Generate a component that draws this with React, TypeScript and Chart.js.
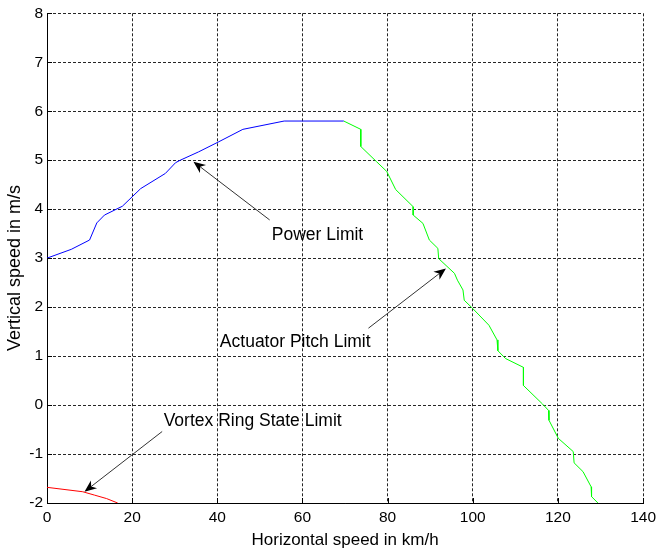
import React, { useEffect, useRef } from "react";
import { Chart, registerables } from "chart.js";

Chart.register(...registerables);

// ---- Data ----
const xTicks = [0, 20, 40, 60, 80, 100, 120, 140];
const yTicks = [-2, -1, 0, 1, 2, 3, 4, 5, 6, 7, 8];

const powerX = [0, 5.7, 10, 11.7, 13.5, 17.7, 22, 27.8, 30.2, 31.3, 35.6, 40.2, 46, 55.7, 69.7];
const powerY = [3.0, 3.18, 3.37, 3.72, 3.88, 4.06, 4.42, 4.73, 4.95, 5.0, 5.17, 5.37, 5.63, 5.8, 5.8];

const actuatorX = [69.7, 73.7, 73.7, 77.4, 79.8, 81.9, 86, 86, 88.3, 89.8, 91.8, 92, 95.7, 96.4, 97.7, 98, 99.9, 103.8, 105.7, 105.9, 107.7, 111.9, 111.9, 116.4, 117.8, 117.9, 120.1, 123.6, 123.8, 125.9, 127.8, 127.9, 129.4];
const actuatorY = [5.8, 5.63, 5.28, 4.97, 4.77, 4.4, 4.05, 3.88, 3.71, 3.37, 3.2, 2.99, 2.69, 2.55, 2.35, 2.14, 1.98, 1.63, 1.33, 1.11, 0.95, 0.77, 0.4, 0.02, -0.11, -0.31, -0.68, -0.95, -1.18, -1.36, -1.67, -1.87, -2.0];

const vortexX = [0, 8.4, 11.2, 14, 16.6];
const vortexY = [-1.68, -1.77, -1.84, -1.91, -2.0];

// annotations (data coordinates)
const noteTexts = ["Power Limit", "Actuator Pitch Limit", "Vortex Ring State Limit"];
const noteTextX = [52.8, 40.6, 27.4];
const noteTextY = [3.38, 1.19, -0.42];
const arrowFromX = [52.3, 75.5, 27.05];
const arrowFromY = [3.78, 1.57, -0.54];
const arrowToX = [34.4, 93.7, 8.8];
const arrowToY = [4.97, 2.79, -1.77];

const xTitle = "Horizontal speed in km/h";
const yTitle = "Vertical speed in m/s";

const FONT = "Arial, 'Liberation Sans', sans-serif";

const toPts = (xs: number[], ys: number[]) => xs.map((x, i) => ({ x, y: ys[i] }));

export default function App() {
  const ref = useRef<HTMLCanvasElement | null>(null);

  useEffect(() => {
    document.body.style.margin = "0";
    const canvas = ref.current!;
    const overlay = {
      id: "overlay",
      afterDraw(chart: any) {
        const { ctx, chartArea } = chart;
        const xs = chart.scales.x;
        const ys = chart.scales.y;
        ctx.save();
        // inward tick marks
        ctx.strokeStyle = "#000";
        ctx.lineWidth = 1;
        ctx.setLineDash([]);
        ctx.beginPath();
        xTicks.forEach((t) => {
          const px = Math.round(xs.getPixelForValue(t)) + 0.5;
          ctx.moveTo(px, chartArea.bottom);
          ctx.lineTo(px, chartArea.bottom - 5);
        });
        yTicks.forEach((t) => {
          const py = Math.round(ys.getPixelForValue(t)) + 0.5;
          ctx.moveTo(chartArea.left, py);
          ctx.lineTo(chartArea.left + 5, py);
        });
        ctx.stroke();

        // axis titles
        ctx.fillStyle = "#000";
        ctx.font = `17px ${FONT}`;
        ctx.textAlign = "center";
        ctx.textBaseline = "alphabetic";
        ctx.fillText(xTitle, (chartArea.left + chartArea.right) / 2 + 0, 545);
        ctx.save();
        ctx.translate(20, 268);
        ctx.rotate(-Math.PI / 2);
        ctx.font = `18px ${FONT}`;
        ctx.fillText(yTitle, 0, 0);
        ctx.restore();

        // annotations
        ctx.font = `17.5px ${FONT}`;
        ctx.textAlign = "left";
        noteTexts.forEach((txt, i) => {
          ctx.fillStyle = "#000";
          ctx.fillText(txt, xs.getPixelForValue(noteTextX[i]), ys.getPixelForValue(noteTextY[i]));
          const x1 = xs.getPixelForValue(arrowFromX[i]);
          const y1 = ys.getPixelForValue(arrowFromY[i]);
          const x2 = xs.getPixelForValue(arrowToX[i]);
          const y2 = ys.getPixelForValue(arrowToY[i]);
          const ang = Math.atan2(y2 - y1, x2 - x1);
          const L = 12;
          const W = 5;
          const notch = 3.5;
          ctx.strokeStyle = "#333";
          ctx.lineWidth = 1;
          ctx.beginPath();
          ctx.moveTo(x1, y1);
          ctx.lineTo(x2 - Math.cos(ang) * (L - notch), y2 - Math.sin(ang) * (L - notch));
          ctx.stroke();
          ctx.save();
          ctx.translate(x2, y2);
          ctx.rotate(ang);
          ctx.fillStyle = "#000";
          ctx.beginPath();
          ctx.moveTo(0, 0);
          ctx.lineTo(-L, -W);
          ctx.lineTo(-L + notch, 0);
          ctx.lineTo(-L, W);
          ctx.closePath();
          ctx.fill();
          ctx.restore();
        });
        ctx.restore();
      },
    };

    const chart = new Chart(canvas, {
      type: "line",
      data: {
        datasets: [
          {
            data: toPts(powerX, powerY),
            borderColor: "#0000ff",
            borderWidth: 1,
            pointRadius: 0,
            tension: 0,
          },
          {
            data: toPts(actuatorX, actuatorY),
            borderColor: "#00ff00",
            borderWidth: 1,
            pointRadius: 0,
            tension: 0,
          },
          {
            data: toPts(vortexX, vortexY),
            borderColor: "#ff0000",
            borderWidth: 1,
            pointRadius: 0,
            tension: 0,
          },
        ],
      },
      options: {
        animation: false,
        responsive: false,
        maintainAspectRatio: false,
        events: [],
        layout: { padding: { top: 13, right: 12, left: 0, bottom: 0 } },
        plugins: { legend: { display: false }, tooltip: { enabled: false }, title: { display: false } },
        scales: {
          x: {
            type: "linear",
            min: 0,
            max: 140,
            afterFit: (s: any) => {
              s.height = 50;
            },
            afterBuildTicks: (s: any) => {
              s.ticks = xTicks.map((v) => ({ value: v }));
            },
            ticks: {
              color: "#000",
              font: { size: 15.5, family: FONT },
              padding: 5,
              maxRotation: 0,
              autoSkip: false,
            },
            grid: { color: "rgba(0,0,0,0.85)", lineWidth: 1, drawTicks: false },
            border: { display: true, color: "#000", width: 1, dash: [3, 2] },
          },
          y: {
            type: "linear",
            min: -2,
            max: 8,
            afterFit: (s: any) => {
              s.width = 47;
            },
            afterBuildTicks: (s: any) => {
              s.ticks = yTicks.map((v) => ({ value: v }));
            },
            ticks: {
              color: "#000",
              font: { size: 15.5, family: FONT },
              padding: 4,
              autoSkip: false,
            },
            grid: { color: "rgba(0,0,0,0.85)", lineWidth: 1, drawTicks: false },
            border: { display: true, color: "#000", width: 1, dash: [3, 2] },
          },
        },
      },
      plugins: [overlay],
    } as any);
    return () => chart.destroy();
  }, []);

  return <canvas ref={ref} width={661} height={553} style={{ display: "block" }} />;
}
